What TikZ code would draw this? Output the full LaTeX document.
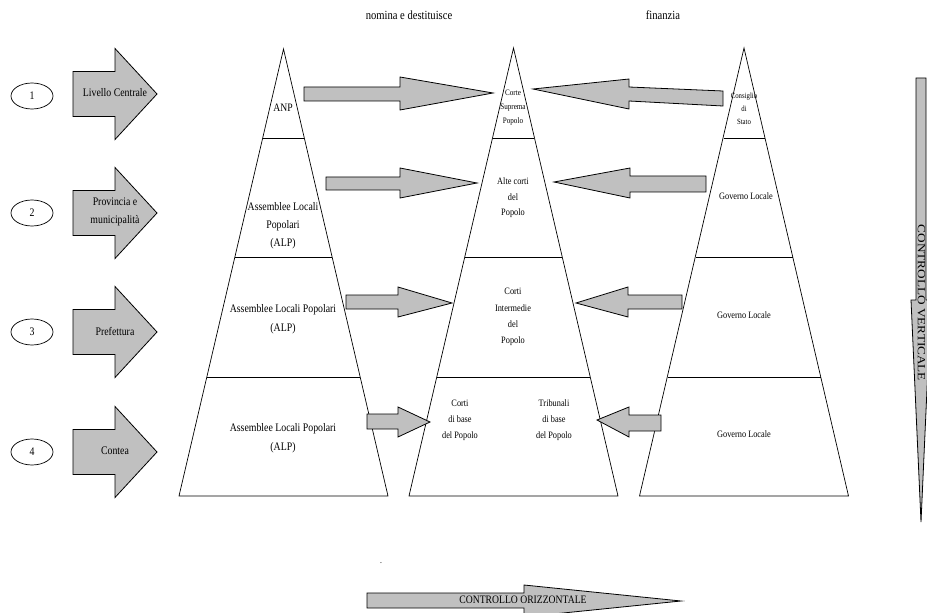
\documentclass[tikz,border=0pt]{standalone}
\usepackage{fontspec}
\setmainfont{Liberation Serif}[FakeStretch=0.85]
\definecolor{arrowgray}{RGB}{192,192,192}
\newcommand{\fsHead}{\fontsize{12.5}{15}\selectfont}
\newcommand{\fsBig}{\fontsize{11.6}{18}\selectfont}
\newcommand{\fsBigB}{\fontsize{11.6}{19}\selectfont}
\newcommand{\fsMid}{\fontsize{9.8}{16}\selectfont}
\tikzset{
  blk/.style={draw=black, line width=0.8pt, fill=arrowgray, line join=miter},
  pyr/.style={draw=black, line width=0.7pt},
  lbl/.style={inner sep=0pt, align=center},
  numell/.style={draw=black, line width=0.7pt, ellipse, minimum width=42bp, minimum height=26bp, inner sep=0pt, font=\fsBig},
}
\usetikzlibrary{shapes.geometric}
\newcommand{\levarrow}[3]{%
  \draw[blk] (73,{#2-22.5}) -- (115,{#2-22.5}) -- (115,{#2-45.5}) -- (157,#2)
     -- (115,{#2+45.5}) -- (115,{#2+22.5}) -- (73,{#2+22.5}) -- cycle;
  \node[lbl, font=\fsBig] (#1) at (115,{#2-1}) {#3};
}
\newcommand{\pyramidshape}[2]{% #1 apex x, #2 apex y
  \draw[pyr] (#1,#2) -- ({#1-104.5},496) -- ({#1+104.5},496) -- cycle;
  \draw[pyr] ({#1-20.5},138) -- ({#1+20.5},138);
  \draw[pyr] ({#1-48.5},257) -- ({#1+48.5},257);
  \draw[pyr] ({#1-76.5},377) -- ({#1+76.5},377);
}
\begin{document}
\begin{tikzpicture}[x=1bp, y=-1bp]
\useasboundingbox (0,0) rectangle (927,613);

% headings
\node[lbl, font=\fsHead] (hnom) at (409,15) {nomina e destituisce};
\node[lbl, font=\fsHead] (hfin) at (663,15) {finanzia};

% level ellipses
\node[numell] (n1) at (32,96) {1};
\node[numell] (n2) at (32,213) {2};
\node[numell] (n3) at (32,332) {3};
\node[numell] (n4) at (32,452) {4};

% level arrows
\levarrow{lv1}{94}{Livello Centrale}
\levarrow{lv2}{213}{Provincia e\\municipalità}
\levarrow{lv3}{332}{Prefettura}
\levarrow{lv4}{452}{Contea}

% pyramids
\pyramidshape{283.5}{49}
\pyramidshape{513.5}{48}
\pyramidshape{744}{48}

% left pyramid texts
\node[lbl, font=\fontsize{11.4}{13}\selectfont] (anp) at (283,108) {ANP};
\node[lbl, font=\fsBig] (alp2) at (283,226) {Assemblee Locali\\Popolari\\(ALP)};
\node[lbl, font=\fsBigB] (alp3) at (283,319) {Assemblee Locali Popolari\\(ALP)};
\node[lbl, font=\fsBigB] (alp4) at (283,438) {Assemblee Locali Popolari\\(ALP)};

% middle pyramid texts
\node[lbl, font=\fontsize{8.4}{14}\selectfont] (csp) at (513,108) {Corte\\Suprema\\Popolo};
\node[lbl, font=\fontsize{9.8}{15.5}\selectfont] (acp) at (513,198) {Alte corti\\del\\Popolo};
\node[lbl, font=\fontsize{9.8}{16.3}\selectfont] (cip) at (513,317) {Corti\\Intermedie\\del\\Popolo};
\node[lbl, font=\fsMid] (cbp) at (460,420) {Corti\\di base\\del Popolo};
\node[lbl, font=\fsMid] (tbp) at (554,420) {Tribunali\\di base\\del Popolo};

% right pyramid texts
\node[lbl, font=\fontsize{8}{13}\selectfont] (cds) at (744,109) {Consiglio\\di\\Stato};
\node[lbl, font=\fsMid] (gl2) at (746,196) {Governo Locale};
\node[lbl, font=\fsMid] (gl3) at (744,315) {Governo Locale};
\node[lbl, font=\fsMid] (gl4) at (744,434) {Governo Locale};

% arrows towards middle pyramid (from left)
\draw[blk] (304,87) -- (400,87) -- (400,77) -- (493,93) -- (400,110) -- (400,101) -- (304,101) -- cycle;
\draw[blk] (326,177) -- (400,177) -- (400,168) -- (477,183) -- (400,198) -- (400,190) -- (326,190) -- cycle;
\draw[blk] (346,295) -- (398,295) -- (398,287) -- (452,303) -- (398,317) -- (398,309) -- (346,309) -- cycle;
\draw[blk] (367,414) -- (398,414) -- (398,407) -- (430,422) -- (398,437) -- (398,429) -- (367,429) -- cycle;

% arrows towards middle pyramid (from right)
\draw[blk] (723,91) -- (629,87) -- (629,79) -- (533,89) -- (629,109) -- (629,101) -- (723,106) -- cycle;
\draw[blk] (706,176) -- (630,176) -- (630,168) -- (554,182) -- (630,198) -- (630,192) -- (706,192) -- cycle;
\draw[blk] (682,295) -- (628,295) -- (628,287) -- (576,303) -- (628,317) -- (628,309) -- (682,309) -- cycle;
\draw[blk] (661,415) -- (629,415) -- (629,407) -- (597,420) -- (629,437) -- (629,431) -- (661,431) -- cycle;

% vertical control arrow
\draw[blk] (916,78) -- (926,78) -- (926,300) -- (931,300) -- (921,522) -- (911,300) -- (916,300) -- cycle;
\node[lbl, font=\fontsize{11}{13}\selectfont, rotate=-90] (cv) at (921.5,303) {\scalebox{1.42}[1]{CONTROLLO VERTICALE}};

% horizontal control arrow
\draw[blk] (367,593) -- (524,593) -- (524,585) -- (681,601) -- (524,617) -- (524,608) -- (367,608) -- cycle;
\node[lbl, font=\fontsize{11.4}{13}\selectfont] (co) at (523,600) {CONTROLLO ORIZZONTALE};

% stray dot
\node[lbl, font=\fontsize{9}{10}\selectfont] (dot) at (381,563) {.};
\end{tikzpicture}
\end{document}
